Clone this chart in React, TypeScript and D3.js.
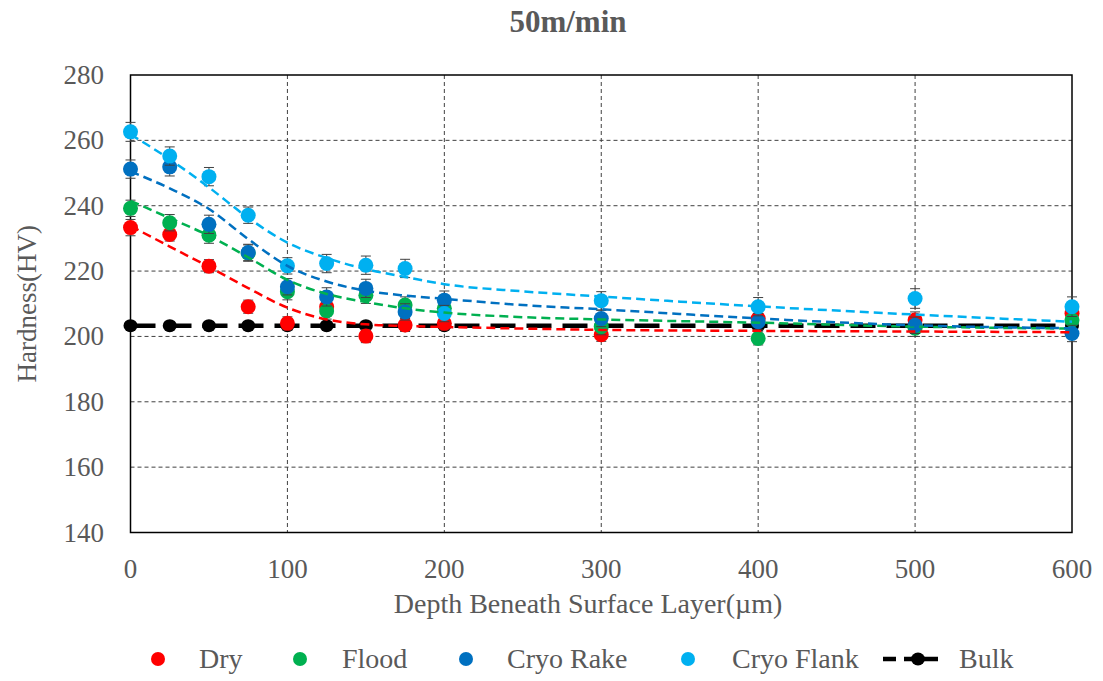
import React from "react";
import * as d3 from "d3";

const depths = [0, 25, 50, 75, 100, 125, 150, 175, 200, 300, 400, 500, 600];
const dryValues = [233.3, 231.2, 221.5, 209.1, 204.0, 209.1, 200.1, 203.5, 204.0, 200.5, 205.5, 205.0, 207.0];
const floodValues = [239.2, 234.8, 231.0, 225.5, 213.7, 207.8, 212.6, 209.6, 208.6, 203.0, 199.4, 202.5, 205.0];
const rakeValues = [251.2, 251.9, 234.3, 225.7, 215.2, 212.1, 214.7, 207.5, 211.1, 205.5, 204.5, 203.4, 200.9];
const flankValues = [262.6, 255.2, 248.9, 237.1, 221.6, 222.3, 221.8, 220.8, 207.0, 210.9, 209.1, 211.6, 209.1];
const bulkValues = [203.3, 203.3, 203.3, 203.3, 203.3, 203.3, 203.3, 203.3, 203.3, 203.3, 203.3, 203.3, 203.3];

const dryErrors = [2.5, 2.0, 2.0, 2.0, 2.0, 2.5, 2.0, 2.0, 2.0, 2.0, 2.5, 2.5, 2.5];
const floodErrors = [2.5, 2.5, 2.5, 2.5, 2.5, 2.5, 2.5, 2.5, 2.5, 2.5, 2.0, 2.5, 2.5];
const rakeErrors = [2.8, 2.8, 2.8, 2.5, 2.5, 2.8, 2.8, 2.5, 2.8, 2.5, 2.5, 2.5, 2.5];
const flankErrors = [2.9, 2.8, 2.8, 2.5, 2.5, 2.8, 2.8, 2.8, 2.5, 2.8, 2.8, 3.0, 3.0];

const trendDepths = [0, 25, 50, 75, 100, 125, 150, 175, 200, 250, 300, 400, 500, 600];
const dryTrend = [233.8, 227.5, 221.3, 214.8, 208.8, 205.2, 203.7, 203.2, 202.9, 202.4, 202.0, 201.7, 201.5, 201.3];
const floodTrend = [241.5, 236.2, 230.8, 224.2, 217.3, 213.0, 210.5, 208.6, 207.3, 205.9, 205.2, 204.2, 203.0, 202.4];
const rakeTrend = [250.5, 245.3, 239.0, 229.8, 221.6, 216.8, 214.0, 212.5, 211.5, 209.6, 208.3, 205.5, 203.4, 202.5];
const flankTrend = [261.8, 254.2, 245.6, 236.3, 228.7, 224.0, 220.6, 218.2, 216.0, 213.8, 212.2, 209.2, 206.7, 204.5];

const xTicks = [0, 100, 200, 300, 400, 500, 600];
const yTicks = [140, 160, 180, 200, 220, 240, 260, 280];

const seriesNames = ["Dry", "Flood", "Cryo Rake", "Cryo Flank"];
const seriesColors = ["#FF0000", "#00B050", "#0070C0", "#00B0F0"];

const W = 1103;
const H = 681;
const left = 130.5;
const right = 1072;
const top = 75;
const bottom = 532.5;

const textColor = "#595959";
const font = "'Liberation Serif', 'Times New Roman', Times, serif";
const tstyle = { fontFamily: font };

export default function App() {
  const x = d3.scaleLinear().domain([0, 600]).range([left, right]);
  const y = d3.scaleLinear().domain([140, 280]).range([bottom, top]);

  const values = [dryValues, floodValues, rakeValues, flankValues];
  const errors = [dryErrors, floodErrors, rakeErrors, flankErrors];
  const trends = [dryTrend, floodTrend, rakeTrend, flankTrend];

  const trendLine = d3
    .line<number>()
    .x((_, i) => x(trendDepths[i]))
    .y((d) => y(d))
    .curve(d3.curveMonotoneX);

  const bulkLine = d3
    .line<number>()
    .x((_, i) => x(depths[i]))
    .y((d) => y(d));

  const legendItems = [
    { cx: 158, tx: 199 },
    { cx: 300, tx: 342 },
    { cx: 466, tx: 507 },
    { cx: 688, tx: 732 },
  ];

  return (
    <svg
      width={W}
      height={H}
      style={{ position: "absolute", left: 0, top: 0, background: "#fff", fontFamily: font }}
    >
      <rect x={0} y={0} width={W} height={H} fill="#fff" />
      <text x={568} y={32} textAnchor="middle" fontSize={31} fontWeight="bold" fill={textColor} style={tstyle}>
        50m/min
      </text>

      {yTicks
        .filter((t) => t !== 140 && t !== 280)
        .map((t) => (
          <line
            key={"gy" + t}
            x1={left}
            x2={right}
            y1={y(t)}
            y2={y(t)}
            stroke="#404040"
            strokeWidth={1}
            strokeDasharray="4 3"
          />
        ))}
      {xTicks
        .filter((t) => t !== 0 && t !== 600)
        .map((t) => (
          <line
            key={"gx" + t}
            x1={x(t)}
            x2={x(t)}
            y1={top}
            y2={bottom}
            stroke="#404040"
            strokeWidth={1}
            strokeDasharray="4 3"
          />
        ))}

      <rect x={left} y={top} width={right - left} height={bottom - top} fill="none" stroke="#000" strokeWidth={1.5} />

      {yTicks.map((t) => (
        <text key={"yl" + t} x={104} y={y(t) + 9} textAnchor="end" fontSize={27} fill={textColor} style={tstyle}>
          {t}
        </text>
      ))}
      {xTicks.map((t) => (
        <text key={"xl" + t} x={x(t)} y={578} textAnchor="middle" fontSize={27} fill={textColor} style={tstyle}>
          {t}
        </text>
      ))}

      <text x={588} y={613} textAnchor="middle" fontSize={28} fill={textColor} style={tstyle}>
        Depth Beneath Surface Layer(µm)
      </text>
      <text
        transform={`translate(36, ${(top + bottom) / 2}) rotate(-90)`}
        textAnchor="middle"
        fontSize={27}
        fill={textColor}
        style={tstyle}
      >
        Hardness(HV)
      </text>

      <path d={bulkLine(bulkValues) || ""} fill="none" stroke="#000" strokeWidth={4.5} strokeDasharray="25 11" />
      {bulkValues.map((v, i) => (
        <ellipse key={"bk" + i} cx={x(depths[i])} cy={y(v)} rx={7} ry={6.5} fill="#000" />
      ))}

      {values.map((vals, s) => (
        <g key={"s" + s}>
          {vals.map((v, i) => {
            const cx = x(depths[i]);
            const e = errors[s][i];
            return (
              <g key={"p" + i}>
                <line x1={cx} x2={cx} y1={y(v + e)} y2={y(v - e)} stroke="#404040" strokeWidth={1} />
                <line x1={cx - 5} x2={cx + 5} y1={y(v + e)} y2={y(v + e)} stroke="#404040" strokeWidth={1} />
                <line x1={cx - 5} x2={cx + 5} y1={y(v - e)} y2={y(v - e)} stroke="#404040" strokeWidth={1} />
                <circle cx={cx} cy={y(v)} r={7.5} fill={seriesColors[s]} />
              </g>
            );
          })}
        </g>
      ))}

      {trends.map((tr, s) => (
        <path
          key={"t" + s}
          d={trendLine(tr) || ""}
          fill="none"
          stroke={seriesColors[s]}
          strokeWidth={2.5}
          strokeDasharray="9 5"
        />
      ))}

      {legendItems.map((it, s) => (
        <g key={"lg" + s}>
          <circle cx={it.cx} cy={659} r={7} fill={seriesColors[s]} />
          <text x={it.tx} y={668} fontSize={28} fill={textColor} style={tstyle}>
            {seriesNames[s]}
          </text>
        </g>
      ))}
      <line x1={883} x2={938} y1={659} y2={659} stroke="#000" strokeWidth={4.5} strokeDasharray="13 8 40" />
      <ellipse cx={918} cy={659} rx={7} ry={6.5} fill="#000" />
      <text x={959} y={668} fontSize={28} fill={textColor} style={tstyle}>
        Bulk
      </text>
    </svg>
  );
}
